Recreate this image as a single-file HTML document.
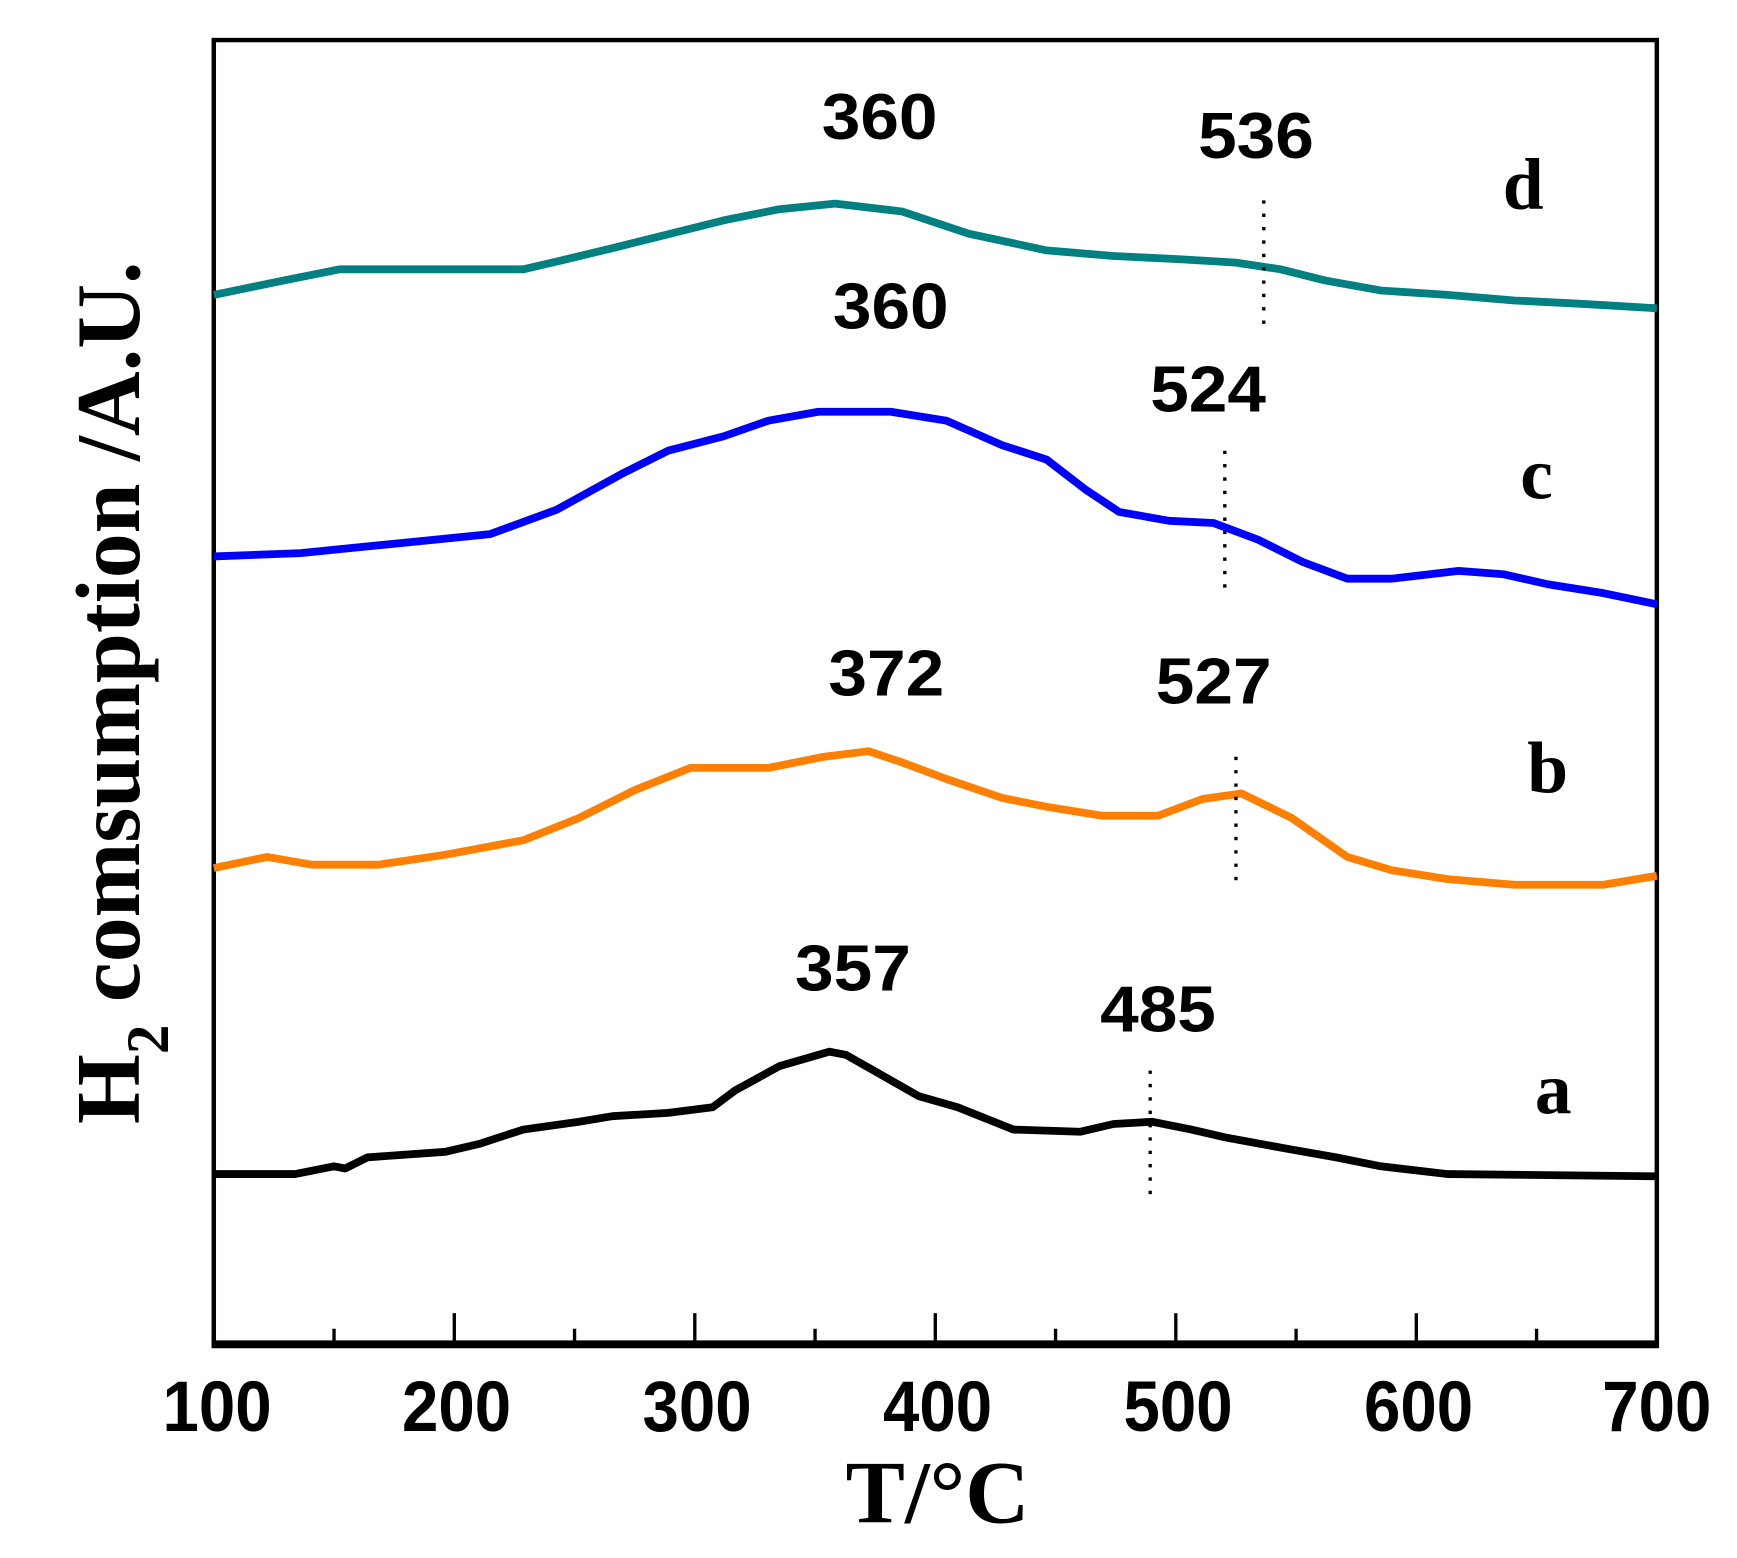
<!DOCTYPE html>
<html><head><style>html,body{margin:0;padding:0;background:#fff}svg{display:block}</style></head>
<body>
<svg width="1737" height="1558" viewBox="0 0 1560 1400" preserveAspectRatio="none" xmlns="http://www.w3.org/2000/svg">
<rect x="192" y="36" width="1296" height="1172" fill="none" stroke="#000" stroke-width="4"/>
<line x1="190" y1="1208" x2="1490" y2="1208" stroke="#000" stroke-width="7"/>
<g stroke="#000" stroke-width="3">
<line x1="192" y1="1208" x2="192" y2="1180"/><line x1="408" y1="1208" x2="408" y2="1180"/><line x1="624" y1="1208" x2="624" y2="1180"/><line x1="840" y1="1208" x2="840" y2="1180"/><line x1="1056" y1="1208" x2="1056" y2="1180"/><line x1="1272" y1="1208" x2="1272" y2="1180"/>
<line x1="300" y1="1208" x2="300" y2="1194"/><line x1="516" y1="1208" x2="516" y2="1194"/><line x1="732" y1="1208" x2="732" y2="1194"/><line x1="948" y1="1208" x2="948" y2="1194"/><line x1="1164" y1="1208" x2="1164" y2="1194"/><line x1="1380" y1="1208" x2="1380" y2="1194"/>
</g>
<g font-family="Liberation Sans, sans-serif" font-weight="bold" font-size="64" text-anchor="middle" fill="#000">
<text x="195" y="1286" textLength="98" lengthAdjust="spacingAndGlyphs">100</text>
<text x="410" y="1286" textLength="98" lengthAdjust="spacingAndGlyphs">200</text>
<text x="626" y="1286" textLength="98" lengthAdjust="spacingAndGlyphs">300</text>
<text x="842" y="1286" textLength="98" lengthAdjust="spacingAndGlyphs">400</text>
<text x="1058" y="1286" textLength="98" lengthAdjust="spacingAndGlyphs">500</text>
<text x="1274" y="1286" textLength="98" lengthAdjust="spacingAndGlyphs">600</text>
<text x="1488" y="1286" textLength="98" lengthAdjust="spacingAndGlyphs">700</text>
</g>
<text x="842" y="1368" font-family="Liberation Serif, serif" font-weight="bold" font-size="80" text-anchor="middle" textLength="165" lengthAdjust="spacingAndGlyphs">T/°C</text>
<text transform="translate(125,1010) rotate(-90)" font-family="Liberation Serif, serif" font-weight="bold" font-size="82" textLength="775" lengthAdjust="spacingAndGlyphs">H<tspan font-size="54" dy="26">2</tspan><tspan dy="-26"> comsumption /A.U.</tspan></text>
<g fill="none" stroke-width="7" stroke-linejoin="round">
<polyline stroke="#000" points="192,1055 265,1055 300,1048 310,1050 330,1040 400,1035 430,1028 470,1015 520,1008 550,1003 600,1000 640,995 660,980 700,958 745,945 760,948 790,965 825,985 860,995 910,1015 970,1017 1000,1010 1035,1008 1070,1015 1100,1022 1160,1033 1200,1040 1240,1048 1300,1055 1488,1057"/>
<polyline stroke="#ff8000" points="192,780 240,770 280,777 340,777 400,768 470,755 520,735 570,710 620,690 690,690 740,680 780,675 810,685 850,700 900,717 940,725 990,733 1040,733 1080,718 1115,713 1160,735 1210,770 1250,782 1300,790 1360,795 1440,795 1488,787"/>
<polyline stroke="#0000ff" points="192,500 270,497 320,492 380,486 440,480 500,458 560,425 600,405 650,392 690,378 735,370 800,370 850,378 900,400 940,413 975,440 1005,460 1050,468 1090,470 1130,485 1170,505 1210,520 1250,520 1310,513 1350,516 1390,525 1440,533 1488,543"/>
<polyline stroke="#008080" points="192,265 250,253 305,242 470,242 500,235 550,223 610,208 650,198 700,188 750,183 810,190 870,210 940,225 1000,230 1060,233 1110,236 1150,242 1190,252 1240,261 1300,265 1360,270 1420,273 1488,277"/>
</g>
<g stroke="#000" stroke-width="3" stroke-dasharray="3,9">
<line x1="1033" y1="962" x2="1033" y2="1075"/>
<line x1="1110" y1="680" x2="1110" y2="792"/>
<line x1="1100" y1="405" x2="1100" y2="532"/>
<line x1="1135" y1="180" x2="1135" y2="295"/>
</g>
<g font-family="Liberation Sans, sans-serif" font-weight="bold" font-size="58" text-anchor="middle">
<text x="790" y="125" textLength="104" lengthAdjust="spacingAndGlyphs">360</text>
<text x="1128" y="142" textLength="104" lengthAdjust="spacingAndGlyphs">536</text>
<text x="800" y="295" textLength="104" lengthAdjust="spacingAndGlyphs">360</text>
<text x="1085" y="370" textLength="104" lengthAdjust="spacingAndGlyphs">524</text>
<text x="796" y="625" textLength="104" lengthAdjust="spacingAndGlyphs">372</text>
<text x="1090" y="632" textLength="104" lengthAdjust="spacingAndGlyphs">527</text>
<text x="766" y="890" textLength="104" lengthAdjust="spacingAndGlyphs">357</text>
<text x="1040" y="927" textLength="104" lengthAdjust="spacingAndGlyphs">485</text>
</g>
<g font-family="Liberation Serif, serif" font-weight="bold" font-size="66" text-anchor="middle">
<text x="1368" y="188">d</text>
<text x="1380" y="448">c</text>
<text x="1390" y="712">b</text>
<text x="1395" y="1000">a</text>
</g>
</svg>
</body></html>
